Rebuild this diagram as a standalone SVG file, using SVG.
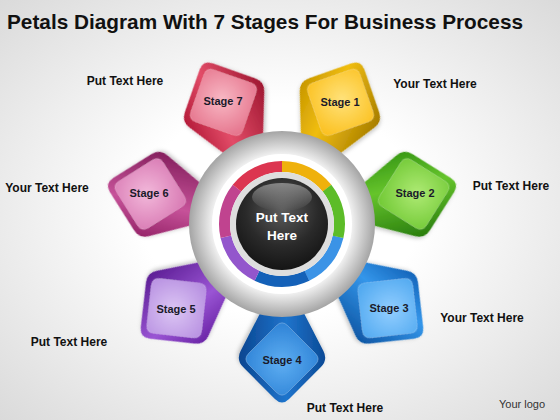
<svg xmlns="http://www.w3.org/2000/svg" width="560" height="420" viewBox="0 0 560 420">
<defs>
<radialGradient id="bg" cx="50%" cy="50%" r="72%"><stop offset="0.35" stop-color="#ffffff"/><stop offset="1" stop-color="#d9d9d9"/></radialGradient>
<radialGradient id="grayRing" gradientUnits="userSpaceOnUse" cx="282" cy="224" r="93"><stop offset="0.74" stop-color="#f4f4f4"/><stop offset="0.86" stop-color="#cfcfcf"/><stop offset="1" stop-color="#a4a4a4"/></radialGradient>
<radialGradient id="blackBall" cx="50%" cy="35%" r="65%"><stop offset="0" stop-color="#5c5c5c"/><stop offset="0.6" stop-color="#2a2a2a"/><stop offset="1" stop-color="#151515"/></radialGradient>
<linearGradient id="gloss" x1="0" y1="0" x2="0" y2="1"><stop offset="0" stop-color="#ffffff" stop-opacity="0.4"/><stop offset="1" stop-color="#ffffff" stop-opacity="0"/></linearGradient>
<linearGradient id="r1" x1="0" y1="0" x2="1" y2="0"><stop offset="0" stop-color="#c99800"/><stop offset="0.4" stop-color="#f0bd10"/><stop offset="1" stop-color="#a87e00"/></linearGradient>
<linearGradient id="r2" x1="0" y1="0" x2="1" y2="0"><stop offset="0" stop-color="#3a9a16"/><stop offset="0.4" stop-color="#66c42c"/><stop offset="1" stop-color="#2a7e0e"/></linearGradient>
<linearGradient id="r3" x1="0" y1="0" x2="1" y2="0"><stop offset="0" stop-color="#1566bb"/><stop offset="0.4" stop-color="#3496ea"/><stop offset="1" stop-color="#0f58a6"/></linearGradient>
<linearGradient id="r4" x1="0" y1="0" x2="1" y2="0"><stop offset="0" stop-color="#0b4a96"/><stop offset="0.45" stop-color="#1f74cc"/><stop offset="1" stop-color="#0a4590"/></linearGradient>
<linearGradient id="r5" x1="0" y1="0" x2="1" y2="0"><stop offset="0" stop-color="#6c26a8"/><stop offset="0.4" stop-color="#9a55d4"/><stop offset="1" stop-color="#5e1f96"/></linearGradient>
<linearGradient id="r6" x1="0" y1="0" x2="1" y2="0"><stop offset="0" stop-color="#97256a"/><stop offset="0.4" stop-color="#c65299"/><stop offset="1" stop-color="#85205e"/></linearGradient>
<linearGradient id="r7" x1="0" y1="0" x2="1" y2="0"><stop offset="0" stop-color="#b51c3a"/><stop offset="0.4" stop-color="#e24c68"/><stop offset="1" stop-color="#a01832"/></linearGradient>
<radialGradient id="f1" cx="50%" cy="45%" r="60%"><stop offset="0" stop-color="#ffe27a"/><stop offset="1" stop-color="#fbbd16"/></radialGradient>
<radialGradient id="f2" cx="50%" cy="45%" r="60%"><stop offset="0" stop-color="#aeea74"/><stop offset="1" stop-color="#6cc630"/></radialGradient>
<radialGradient id="f3" cx="50%" cy="45%" r="60%"><stop offset="0" stop-color="#92ceff"/><stop offset="1" stop-color="#48a4ee"/></radialGradient>
<radialGradient id="f4" cx="50%" cy="45%" r="60%"><stop offset="0" stop-color="#5eaef2"/><stop offset="1" stop-color="#2a7fd4"/></radialGradient>
<radialGradient id="f5" cx="50%" cy="45%" r="60%"><stop offset="0" stop-color="#dcc6f4"/><stop offset="1" stop-color="#b288de"/></radialGradient>
<radialGradient id="f6" cx="50%" cy="45%" r="60%"><stop offset="0" stop-color="#f2b8da"/><stop offset="1" stop-color="#d674b0"/></radialGradient>
<radialGradient id="f7" cx="50%" cy="45%" r="60%"><stop offset="0" stop-color="#f8b8c4"/><stop offset="1" stop-color="#e36c86"/></radialGradient>
<path id="petalOuter" d="M -10,-66 L -41.43,-127.11 Q -46,-136 -38.9,-143.1 L -7.07,-174.9 Q 0,-182 7.07,-174.9 L 38.9,-143.1 Q 46,-136 41.43,-127.11 L 10,-66 Z"/>
<path id="petalFace" d="M -33.34,-140.66 L -5.66,-168.34 Q 0,-174 5.66,-168.34 L 33.34,-140.66 Q 39,-135 33.34,-129.34 L 5.66,-101.66 Q 0,-96 -5.66,-101.66 L -33.34,-129.34 Q -39,-135 -33.34,-140.66 Z"/>
<filter id="shadow" x="-20%" y="-20%" width="140%" height="140%"><feDropShadow dx="1" dy="2" stdDeviation="2" flood-color="#000" flood-opacity="0.25"/></filter>
</defs>
<style>
.title{font-family:"Liberation Sans",Arial,sans-serif;font-weight:bold;font-size:21px;fill:#111}
.lbl{font-family:"Liberation Sans",Arial,sans-serif;font-weight:bold;font-size:12px;fill:#111;text-anchor:middle}
.stg{font-family:"Liberation Sans",Arial,sans-serif;font-weight:bold;font-size:11px;fill:#1a1a2a;text-anchor:middle}
.ctr{font-family:"Liberation Sans",Arial,sans-serif;font-weight:bold;font-size:13.5px;fill:#ffffff;text-anchor:middle}
.logo{font-family:"Liberation Sans",Arial,sans-serif;font-size:11px;fill:#333;text-anchor:middle}
.face{stroke:#ffffff;stroke-opacity:0.25;stroke-width:1}
.seg{fill:none;stroke-width:11;stroke-dasharray:51.61 309.67}
</style>
<rect x="0" y="0" width="560" height="420" fill="url(#bg)"/>
<text class="title" x="7" y="29" textLength="516" lengthAdjust="spacingAndGlyphs">Petals Diagram With 7 Stages For Business Process</text>

<g id="stage1">
<g transform="translate(282,224) rotate(25.714)" filter="url(#shadow)"><use href="#petalOuter" fill="url(#r1)"/><use href="#petalFace" class="face" fill="url(#f1)"/></g>
<text class="stg" x="340" y="106">Stage 1</text>
</g>
<g id="stage2">
<g transform="translate(282,224) rotate(77.143)" filter="url(#shadow)"><use href="#petalOuter" fill="url(#r2)"/><use href="#petalFace" class="face" fill="url(#f2)"/></g>
<text class="stg" x="415" y="197">Stage 2</text>
</g>
<g id="stage3">
<g transform="translate(282,224) rotate(128.571)" filter="url(#shadow)"><use href="#petalOuter" fill="url(#r3)"/><use href="#petalFace" class="face" fill="url(#f3)"/></g>
<text class="stg" x="389" y="312">Stage 3</text>
</g>
<g id="stage4">
<g transform="translate(282,224) rotate(180)" filter="url(#shadow)"><use href="#petalOuter" fill="url(#r4)"/><use href="#petalFace" class="face" fill="url(#f4)"/></g>
<text class="stg" x="282" y="364">Stage 4</text>
</g>
<g id="stage5">
<g transform="translate(282,224) rotate(231.429)" filter="url(#shadow)"><use href="#petalOuter" fill="url(#r5)"/><use href="#petalFace" class="face" fill="url(#f5)"/></g>
<text class="stg" x="176" y="313">Stage 5</text>
</g>
<g id="stage6">
<g transform="translate(282,224) rotate(282.857)" filter="url(#shadow)"><use href="#petalOuter" fill="url(#r6)"/><use href="#petalFace" class="face" fill="url(#f6)"/></g>
<text class="stg" x="149" y="197">Stage 6</text>
</g>
<g id="stage7">
<g transform="translate(282,224) rotate(334.286)" filter="url(#shadow)"><use href="#petalOuter" fill="url(#r7)"/><use href="#petalFace" class="face" fill="url(#f7)"/></g>
<text class="stg" x="223" y="105">Stage 7</text>
</g>

<g id="hub">
<circle cx="282" cy="224" r="93" fill="url(#grayRing)"/>
<circle cx="282" cy="224" r="70" fill="#ffffff"/>
<circle class="seg" cx="282" cy="224" r="57.5" stroke="#3b93e6" transform="rotate(12.857 282 224)"/>
<circle class="seg" cx="282" cy="224" r="57.5" stroke="#1461b8" transform="rotate(64.286 282 224)"/>
<circle class="seg" cx="282" cy="224" r="57.5" stroke="#9356cc" transform="rotate(115.714 282 224)"/>
<circle class="seg" cx="282" cy="224" r="57.5" stroke="#c0438f" transform="rotate(167.143 282 224)"/>
<circle class="seg" cx="282" cy="224" r="57.5" stroke="#dc3550" transform="rotate(218.571 282 224)"/>
<circle class="seg" cx="282" cy="224" r="57.5" stroke="#efb10c" transform="rotate(270 282 224)"/>
<circle class="seg" cx="282" cy="224" r="57.5" stroke="#5cbc28" transform="rotate(321.429 282 224)"/>
<circle cx="282" cy="224" r="52" fill="#dedede"/>
<circle cx="282" cy="224" r="46" fill="url(#blackBall)"/>
<ellipse cx="282" cy="197" rx="30" ry="14" fill="url(#gloss)"/>
<text class="ctr" x="282" y="222">Put Text</text>
<text class="ctr" x="282" y="240">Here</text>
</g>

<g id="labels">
<text class="lbl" x="125" y="85">Put Text Here</text>
<text class="lbl" x="435" y="88">Your Text Here</text>
<text class="lbl" x="47" y="192">Your Text Here</text>
<text class="lbl" x="511" y="190">Put Text Here</text>
<text class="lbl" x="482" y="322">Your Text Here</text>
<text class="lbl" x="69" y="346">Put Text Here</text>
<text class="lbl" x="345" y="412">Put Text Here</text>
<text class="logo" x="522" y="408">Your logo</text>
</g>
</svg>
